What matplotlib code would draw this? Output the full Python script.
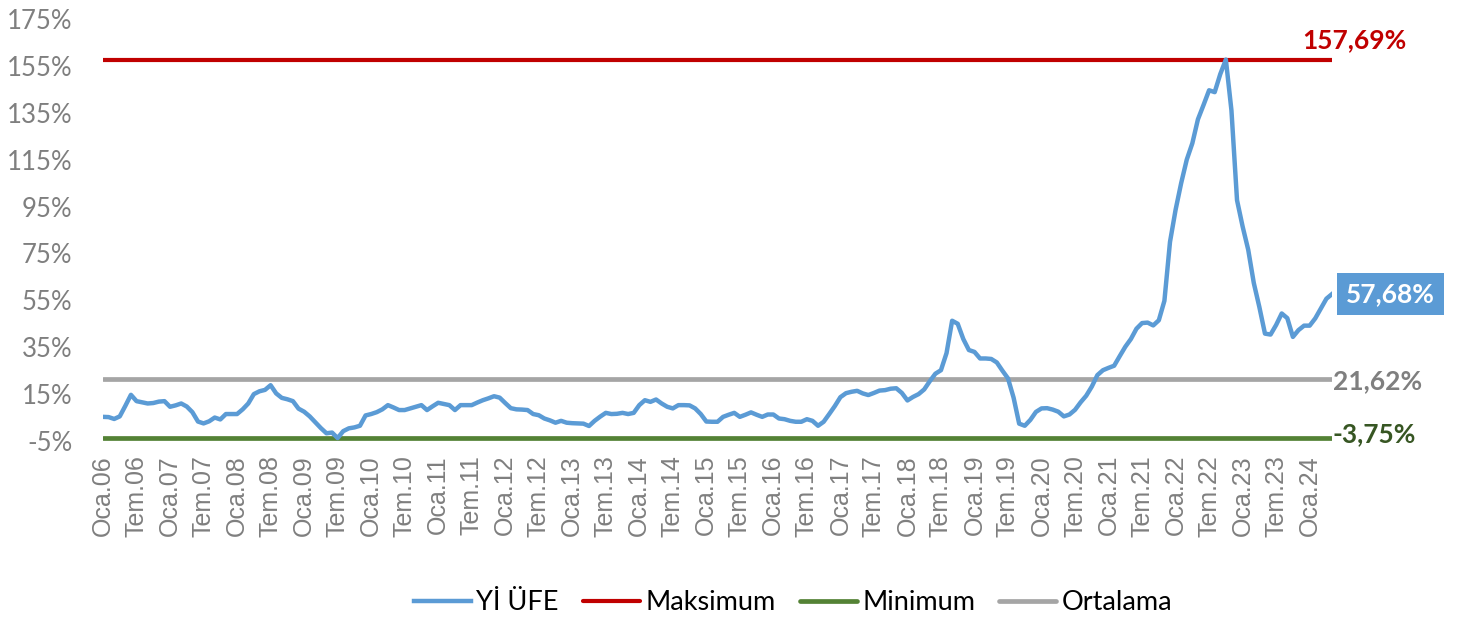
import matplotlib
matplotlib.use("Agg")
import matplotlib.pyplot as plt
import numpy as np

# Yİ ÜFE yıllık değişim (%), aylık, Ocak 2006 - Mayıs 2024
yi_ufe = [
    5.3, 5.2, 4.4, 5.5, 10.0, 14.7, 12.0, 11.5, 11.0, 11.2, 11.8, 12.0,      # 2006
    9.6, 10.2, 11.0, 9.7, 7.3, 3.3, 2.5, 3.4, 5.0, 4.2, 6.5, 6.5,            # 2007
    6.5, 8.5, 11.0, 15.0, 16.2, 16.8, 18.8, 15.3, 13.4, 12.8, 12.0, 8.8,     # 2008
    7.5, 5.5, 3.0, 0.5, -1.7, -1.4, -3.75, -0.8, 0.4, 0.8, 1.5, 5.9,         # 2009
    6.5, 7.3, 8.5, 10.3, 9.3, 8.2, 8.2, 8.9, 9.6, 10.3, 8.2, 9.8,            # 2010
    11.3, 10.8, 10.3, 8.2, 10.3, 10.3, 10.3, 11.4, 12.4, 13.2, 14.1, 13.5,   # 2011
    11.2, 9.0, 8.5, 8.4, 8.2, 6.5, 6.0, 4.6, 3.8, 2.8, 3.6, 2.8,             # 2012
    2.6, 2.5, 2.4, 1.4, 3.6, 5.4, 7.0, 6.5, 6.6, 7.0, 6.5, 7.0,              # 2013
    10.3, 12.4, 11.7, 12.7, 11.0, 9.6, 8.9, 10.3, 10.3, 10.2, 8.9, 6.5,      # 2014
    3.3, 3.2, 3.2, 5.3, 6.2, 7.0, 5.3, 6.2, 7.2, 6.2, 5.3, 6.3,              # 2015
    6.3, 4.6, 4.3, 3.6, 3.2, 3.2, 4.3, 3.6, 1.5, 3.2, 6.5, 9.9,              # 2016
    13.7, 15.4, 16.0, 16.4, 15.3, 14.6, 15.5, 16.5, 16.7, 17.3, 17.5, 15.5,  # 2017
    12.3, 13.8, 15.0, 17.0, 20.5, 23.7, 25.2, 32.5, 46.3, 45.0, 38.5, 33.8,  # 2018
    33.0, 30.2, 30.2, 30.0, 28.5, 25.0, 21.7, 13.5, 2.4, 1.5, 4.0, 7.4,      # 2019
    8.9, 9.0, 8.4, 7.5, 5.5, 6.3, 8.3, 11.5, 14.3, 18.2, 23.1, 25.2,         # 2020
    26.2, 27.1, 31.2, 35.2, 38.5, 42.9, 45.3, 45.5, 44.3, 46.5, 54.8, 79.9,  # 2021
    93.6, 105.0, 115.0, 122.0, 132.2, 138.3, 144.6, 143.8, 151.5, 157.69, 136.0, 97.7,  # 2022
    86.5, 76.6, 62.4, 52.1, 40.8, 40.4, 44.5, 49.4, 47.4, 39.4, 42.3, 44.2,  # 2023
    44.2, 47.3, 51.5, 55.7, 57.68,                                           # 2024
]
maksimum = 157.69
minimum = -3.75
ortalama = 21.62

donemler = ["Oca", "Tem"]
yillar = list(range(6, 25))
tick_labels = [f"{d}.{y:02d}" for y in yillar for d in donemler][:37]
y_ticks = list(range(-5, 176, 20))

BLUE = "#5B9BD5"
RED = "#C00000"
GREEN = "#548235"
GRAY = "#A5A5A5"
LABEL_GRAY = "#7F7F7F"

W, H = 1470, 619
fig = plt.figure(figsize=(W / 100, H / 100), dpi=100)
ax = fig.add_axes([103 / W, 1 - 441 / H, (1332 - 103) / W, (441 - 19) / H])

x = np.arange(len(yi_ufe))
ax.plot(x, yi_ufe, color=BLUE, lw=3.2, label="Yİ ÜFE", solid_joinstyle="round", zorder=4)
ax.plot(x, [maksimum] * len(x), color=RED, lw=3.0, label="Maksimum", solid_capstyle="round", zorder=3)
ax.plot(x, [minimum] * len(x), color=GREEN, lw=3.4, label="Minimum", solid_capstyle="round", zorder=3)
ax.plot(x, [ortalama] * len(x), color=GRAY, lw=3.4, label="Ortalama", solid_capstyle="round", zorder=3)

ax.set_xlim(0, len(x) - 1)
ax.set_ylim(-5, 175)
ax.set_yticks(y_ticks)
ax.set_yticklabels([f"{v}%" for v in y_ticks], fontfamily="Lato", fontsize=18.5, color=LABEL_GRAY)
ax.set_xticks(np.arange(0, len(x), 6))
ax.set_xticklabels(tick_labels, rotation=90, fontfamily="Liberation Sans", fontsize=18, color=LABEL_GRAY)
ax.tick_params(axis="both", length=0)
ax.tick_params(axis="y", pad=22)
ax.tick_params(axis="x", pad=10)
for s in ax.spines.values():
    s.set_visible(False)

# etiketler
last = len(x) - 1
bold = dict(fontfamily="Lato", fontweight="bold", fontsize=19)
ax.annotate("157,69%", xy=(last, maksimum), xytext=(22, 19), textcoords="offset pixels",
            ha="center", va="center", color=RED, **bold)
ax.annotate("21,62%", xy=(last, ortalama), xytext=(1, -3), textcoords="offset pixels",
            ha="left", va="center", color=LABEL_GRAY, **bold)
ax.annotate("-3,75%", xy=(last, minimum), xytext=(1, 4), textcoords="offset pixels",
            ha="left", va="center", color="#375623", **bold)
ax.annotate("57,68%", xy=(last, yi_ufe[-1]), xytext=(14, 0), textcoords="offset pixels",
            ha="left", va="center", color="white",
            bbox=dict(boxstyle="square,pad=0.35", fc=BLUE, ec="none"), **bold)

fig.legend(loc="center", bbox_to_anchor=(793 / W, 1 - 603 / H), ncol=4, frameon=False,
           prop=dict(family="Lato", size=19.5), handlelength=2.1, handletextpad=0.2,
           columnspacing=0.9)

fig.savefig("out.png", dpi=100)
